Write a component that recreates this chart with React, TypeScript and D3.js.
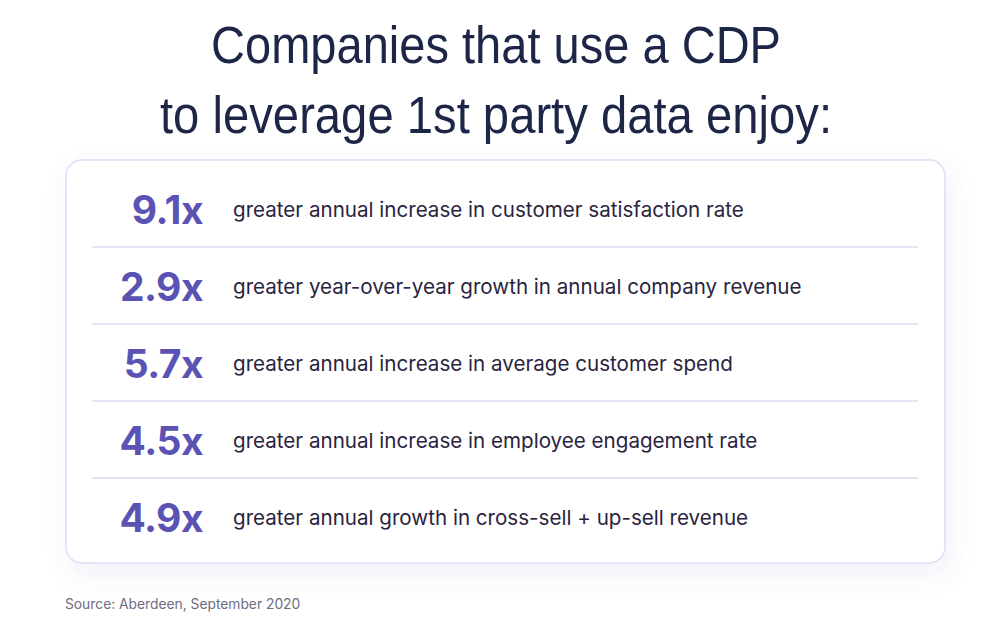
import React from "react";
import * as d3 from "d3";

const titleLines = ["Companies that use a CDP", "to leverage 1st party data enjoy:"];
const multipliers = [9.1, 2.9, 5.7, 4.5, 4.9];
const descriptions = [
  "greater annual increase in customer satisfaction rate",
  "greater year-over-year growth in annual company revenue",
  "greater annual increase in average customer spend",
  "greater annual increase in employee engagement rate",
  "greater annual growth in cross-sell + up-sell revenue",
];
const sourceText = "Source: Aberdeen, September 2020";

export default function App() {
  const W = 1004, H = 628;
  const cardX = 66, cardY = 160, cardW = 879, cardH = 403;
  const rows = d3.range(multipliers.length);
  const y = d3.scaleBand<number>().domain(rows).range([170, 555]).paddingInner(0);
  const titleWidths = [570, 672];
  return (
    <div style={{ position: "absolute", left: 0, top: 0 }}>
      <svg width={W} height={H} style={{ display: "block" }}>
        <defs>
          <filter id="sh" x="-10%" y="-10%" width="125%" height="135%">
            <feDropShadow dx="4" dy="10" stdDeviation="12" floodColor="#6b63b5" floodOpacity="0.09" />
          </filter>
        </defs>
        <rect width={W} height={H} fill="#ffffff" />
        {titleLines.map((t, i) => (
          <text key={i} x={496} y={63 + i * 70} textAnchor="middle" fontFamily="'Liberation Sans', Arial, sans-serif"
            fontSize={51} textLength={titleWidths[i]} lengthAdjust="spacingAndGlyphs" fill="#1d2647">{t}</text>
        ))}
        <rect x={cardX} y={cardY} width={cardW} height={cardH} rx={16} fill="#ffffff" stroke="#e0dcf5" strokeWidth={1.5} filter="url(#sh)" />
        {rows.slice(1).map((i) => (
          <line key={i} x1={92} x2={918} y1={y(i)!} y2={y(i)!} stroke="#dedbf1" strokeWidth={1.5} />
        ))}
        {rows.map((i) => {
          const cy = y(i)! + y.bandwidth() / 2;
          return (
            <g key={i}>
              <text x={203} y={cy + 15} textAnchor="end" fontFamily="Inter, sans-serif" fontWeight={700}
                fontSize={39} letterSpacing={-0.5} fill="#5a53b3">{d3.format(".1f")(multipliers[i])}x</text>
              <text x={233} y={cy + 8} fontFamily="Inter, sans-serif" fontSize={20.6} fill="#2a2440">{descriptions[i]}</text>
            </g>
          );
        })}
        <text x={65} y={609} fontFamily="Inter, sans-serif" fontSize={13.8} fill="#6f6c80">{sourceText}</text>
      </svg>
    </div>
  );
}
